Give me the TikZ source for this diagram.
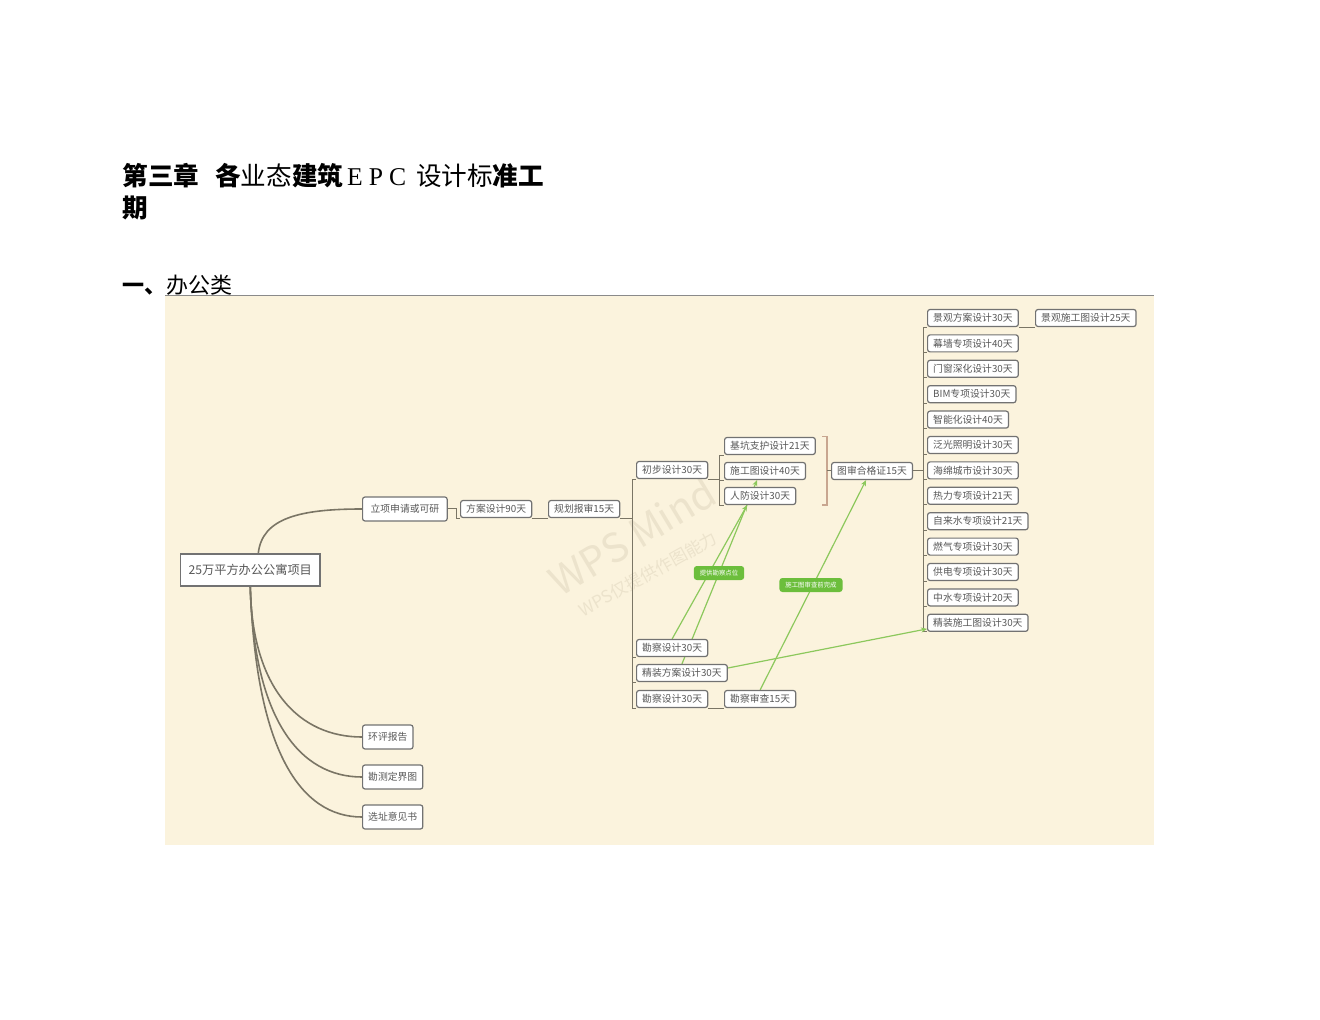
\documentclass[tikz,border=0pt]{standalone}
\usepackage{fontspec}
\setmainfont{Noto Sans CJK SC}
\newfontfamily\latinserif{Liberation Serif}
\usetikzlibrary{arrows.meta,backgrounds}

\definecolor{paper}{HTML}{FBF3DD}
\definecolor{edge}{HTML}{7A7565}
\definecolor{frame}{HTML}{727272}
\definecolor{word}{HTML}{585858}
\definecolor{leaf}{HTML}{8CC85C}
\definecolor{tag}{HTML}{6CBE3C}
\definecolor{bracecol}{HTML}{C8A690}
\definecolor{wmark}{HTML}{ECE3CC}
\definecolor{rule}{HTML}{8A8A8A}

\tikzset{
  box/.style={draw=frame, fill=white, rounded corners=1.2pt, line width=0.6pt,
    text=word, font=\fontsize{4.9}{5}\selectfont, inner xsep=2.8pt, inner ysep=0pt,
    minimum height=8.5pt, anchor=west},
  rootbox/.style={box, rounded corners=0pt, font=\fontsize{6.1}{7}\selectfont,
    minimum height=16pt, inner xsep=4pt},
  link/.style={draw=edge, line width=0.5pt},
  limb/.style={draw=edge, line width=0.8pt},
  hint/.style={draw=leaf, line width=0.6pt, -{Stealth[length=3pt,width=2.6pt]}},
  tagbox/.style={fill=tag, text=white, rounded corners=1.5pt,
    font=\fontsize{3.2}{3.5}\selectfont, inner xsep=3pt, inner ysep=0pt, minimum height=7pt},
  head/.style={anchor=west, inner sep=0pt},
}

\begin{document}
\begin{tikzpicture}[x=0.5pt,y=-0.5pt]
\useasboundingbox (0,0) rectangle (1320,1020);

% heading
\node[head, font=\fontsize{12.8}{14}\selectfont] (title) at (122,176)
  {\textbf{第三章}\hspace{8pt}\textbf{各}业态\textbf{建筑}{\latinserif\hspace{2pt}E\hspace{3pt}P\hspace{3pt}C\hspace{5pt}}设计标\textbf{准工}};
\node[head, font=\fontsize{12.8}{14}\selectfont] (title2) at (122,208) {\textbf{期}};
\node[head, font=\fontsize{11}{13}\selectfont] (sect) at (122,285) {\textbf{一、}办公类};

% nodes
\node[rootbox] (proj) at (180,570) {25万平方办公公寓项目};
\node[box, minimum height=12pt, inner xsep=4pt] (lx) at (362,509) {立项申请或可研};
\node[box] (fa) at (460,509) {方案设计90天};
\node[box] (gh) at (548,509) {规划报审15天};
\node[box] (cb) at (636,470) {初步设计30天};
\node[box] (jk) at (724,446) {基坑支护设计21天};
\node[box] (sg) at (724,471) {施工图设计40天};
\node[box] (rf) at (724,496) {人防设计30天};
\node[box] (ts) at (831,471) {图审合格证15天};
\foreach \t [count=\i from 0] in {景观方案设计30天,幕墙专项设计40天,门窗深化设计30天,
  BIM专项设计30天,智能化设计40天,泛光照明设计30天,海绵城市设计30天,热力专项设计21天,
  自来水专项设计21天,燃气专项设计30天,供电专项设计30天,中水专项设计20天,精装施工图设计30天}
  \node[box] (z\i) at (927,{318+25.4*\i}) {\t};
\node[box] (jgsg) at (1035,318) {景观施工图设计25天};
\node[box] (kc1) at (636,648) {勘察设计30天};
\node[box] (jzfa) at (636,673) {精装方案设计30天};
\node[box] (kc2) at (636,699) {勘察设计30天};
\node[box] (kcsc) at (724,699) {勘察审查15天};
\node[box, minimum height=12pt] (hp) at (362,737) {环评报告};
\node[box, minimum height=12pt] (kd) at (362,777) {勘测定界图};
\node[box, minimum height=12pt] (xz) at (362,817) {选址意见书};

\node[tagbox] (t1) at (719,573) {提供勘察点位};
\node[tagbox] (t2) at (811,585) {施工图审查前完成};

\coordinate (spA) at (632,470);
\coordinate (spB) at (719,470);
\coordinate (br) at (827,471);
\coordinate (spC) at (923,471);

\begin{scope}[on background layer]
\fill[paper] (165,296) rectangle (1154,845);
\draw[rule, line width=0.5pt] (165,296) -- (1154,296);
% watermark
\node[rotate=31, text=wmark, font=\fontsize{20}{22}\selectfont] (wm) at (632,536) {WPS Mind};
\node[rotate=29, text=wmark, font=\fontsize{8.5}{9}\selectfont] (wm2) at (648,574) {WPS仅提供作图能力};

\draw[limb] ([xshift=4pt]proj.north) .. controls (262,518) and (300,509) .. (lx.west);
\draw[limb] (proj.south) .. controls (252,690) and (300,737) .. (hp.west);
\draw[limb] (proj.south) .. controls (254,720) and (300,777) .. (kd.west);
\draw[limb] (proj.south) .. controls (256,750) and (300,817) .. (xz.west);

\draw[link] (lx.east) -- ++(9,0) |- (fa.south west);
\draw[link] (fa.south east) -- (gh.south west);
\draw[link] (gh.south east) -- (gh.south east -| spA);
\draw[link] (cb.south west -| spA) -- (kc2.south west -| spA);
\foreach \n in {cb,kc1,jzfa,kc2} \draw[link] (\n.south west -| spA) -- (\n.south west);
\draw[link] (cb.south east) -- (cb.south east -| spB);
\draw[link] (jk.south west -| spB) -- (rf.south west -| spB);
\foreach \n in {jk,sg,rf} \draw[link] (\n.south west -| spB) -- (\n.south west);
\draw[bracecol, line width=0.6pt] ([xshift=-2.5pt]br |- jk.north) -- (br |- jk.north)
  -- (br |- rf.south) -- ++(-5,0);
\draw[link] (br) -- (ts.west);
\draw[link] (ts.east) -- (spC);
\draw[link] (z0.south west -| spC) -- (z12.south west -| spC);
\foreach \i in {0,...,12} \draw[link] (z\i.south west -| spC) -- (z\i.south west);
\draw[link] (z0.south east) -- (jgsg.south west);
\draw[link] (kc2.south east) -- (kcsc.south west);

% green hints
\draw[hint] (kc1.north) -- ([xshift=-6.5pt]rf.south);
\draw[hint] (jzfa.north) -- ([xshift=-4pt]sg.south);
\draw[hint] (kcsc.north) -- ([xshift=-3pt]ts.south);
\draw[hint] ([yshift=2.5pt]jzfa.east) -- ([yshift=1.5pt]z12.south west);
\end{scope}
\end{tikzpicture}
\end{document}
